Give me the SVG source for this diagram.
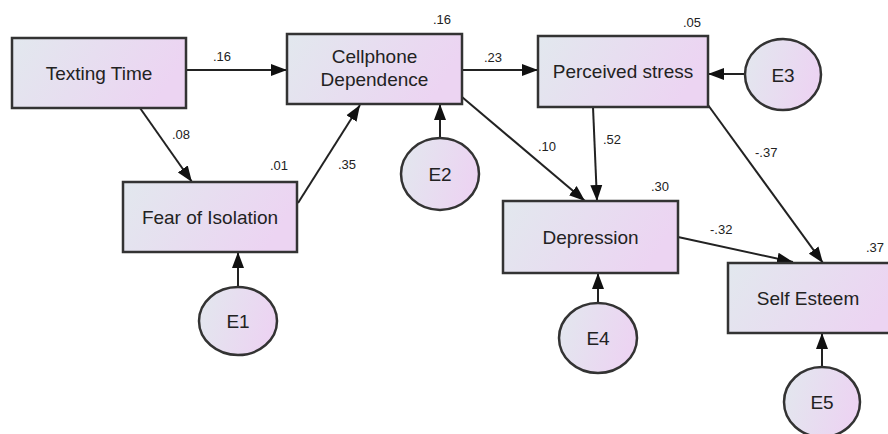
<svg xmlns="http://www.w3.org/2000/svg" width="888" height="434" viewBox="0 0 888 434">
<defs>
<linearGradient id="g" x1="0" y1="0" x2="1" y2="0.25">
<stop offset="0" stop-color="#e2e8ee"/>
<stop offset="1" stop-color="#ecd4f2"/>
</linearGradient>
<marker id="ah" markerUnits="userSpaceOnUse" markerWidth="17" markerHeight="13" refX="16" refY="6.5" orient="auto">
<path d="M0,0.5 L16,6.5 L0,12.5 z" fill="#111"/>
</marker>
</defs>
<style>
.box{fill:url(#g);stroke:#333;stroke-width:2.5}
.lbl{font-family:"Liberation Sans",Arial,sans-serif;font-size:19px;fill:#222;text-anchor:middle}
.num{font-family:"Liberation Sans",Arial,sans-serif;font-size:13px;fill:#222}
.c line{stroke:#222;stroke-width:2;marker-end:url(#ah)}
</style>
<rect width="888" height="434" fill="#fff"/>
<g class="c" id="connectors">
<line x1="186" y1="70" x2="287" y2="70"/>
<line x1="140" y1="108" x2="192" y2="182"/>
<line x1="298" y1="203" x2="360" y2="105"/>
<line x1="462" y1="70" x2="538" y2="70"/>
<line x1="462" y1="97" x2="585" y2="201"/>
<line x1="593" y1="107" x2="597" y2="201"/>
<line x1="708" y1="105" x2="823" y2="263"/>
<line x1="678" y1="237" x2="793" y2="262"/>
<line x1="745" y1="74" x2="708" y2="74"/>
<line x1="440" y1="138" x2="440" y2="104"/>
<line x1="238" y1="287" x2="238" y2="252"/>
<line x1="598" y1="303" x2="598" y2="273"/>
<line x1="822" y1="367" x2="822" y2="333"/>
</g>
<g id="labels" class="num">
<text x="213" y="61">.16</text>
<text x="172" y="139">.08</text>
<text x="338" y="169">.35</text>
<text x="484" y="62">.23</text>
<text x="538" y="151">.10</text>
<text x="603" y="144">.52</text>
<text x="755" y="157">-.37</text>
<text x="710" y="234">-.32</text>
<text x="433" y="24">.16</text>
<text x="683" y="27">.05</text>
<text x="270" y="170">.01</text>
<text x="651" y="191">.30</text>
<text x="866" y="252">.37</text>
</g>
<g id="texting">
<rect class="box" x="12" y="38" width="174" height="70"/>
<text class="lbl" x="99" y="80">Texting Time</text>
</g>
<g id="cellphone">
<rect class="box" x="287" y="34" width="175" height="70"/>
<text class="lbl" x="374.5" y="63">Cellphone</text>
<text class="lbl" x="374.5" y="86">Dependence</text>
</g>
<g id="stress">
<rect class="box" x="538" y="36" width="170" height="71"/>
<text class="lbl" x="623" y="78">Perceived stress</text>
</g>
<g id="fear">
<rect class="box" x="123" y="182" width="174" height="70"/>
<text class="lbl" x="210" y="224">Fear of Isolation</text>
</g>
<g id="depression">
<rect class="box" x="503" y="201" width="175" height="72"/>
<text class="lbl" x="590.5" y="244">Depression</text>
</g>
<g id="selfesteem">
<rect class="box" x="728" y="263" width="174" height="70"/>
<text class="lbl" x="808" y="305">Self Esteem</text>
</g>
<g id="E1">
<ellipse class="box" cx="238" cy="321" rx="39" ry="34"/>
<text class="lbl" x="238" y="328">E1</text>
</g>
<g id="E2">
<ellipse class="box" cx="440" cy="174" rx="39" ry="36"/>
<text class="lbl" x="440" y="181">E2</text>
</g>
<g id="E3">
<ellipse class="box" cx="783" cy="74.5" rx="38" ry="35.5"/>
<text class="lbl" x="783" y="82">E3</text>
</g>
<g id="E4">
<ellipse class="box" cx="598" cy="338" rx="39" ry="35"/>
<text class="lbl" x="598" y="345">E4</text>
</g>
<g id="E5">
<ellipse class="box" cx="822" cy="402" rx="38" ry="35"/>
<text class="lbl" x="822" y="409">E5</text>
</g>
</svg>
